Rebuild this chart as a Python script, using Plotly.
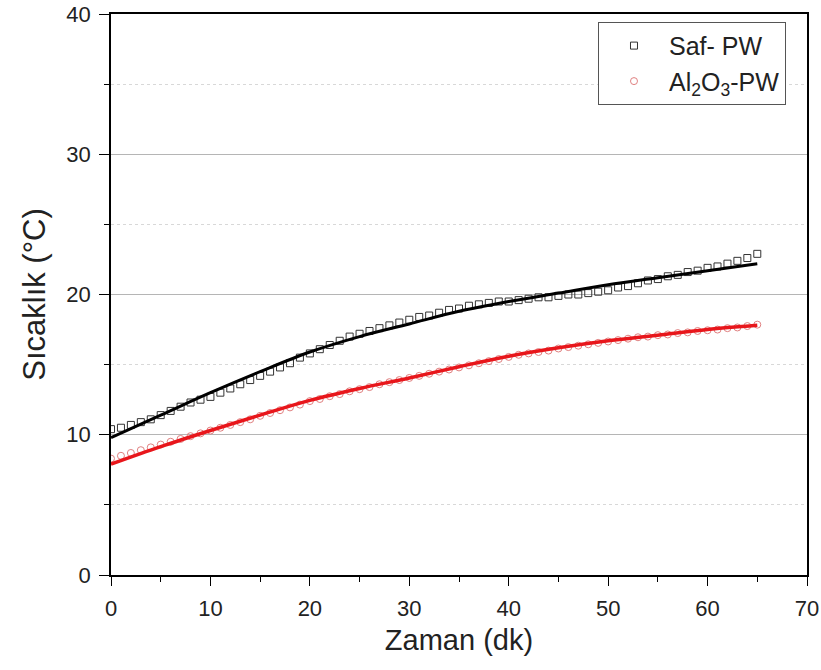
import plotly.graph_objects as go

# time (minutes) for measured points
t_points = list(range(0, 66))

saf_pw = [10.4, 10.5, 10.7, 10.9, 11.1, 11.4, 11.7, 12.0, 12.3, 12.5,
          12.7, 13.0, 13.3, 13.6, 13.9, 14.2, 14.5, 14.8, 15.1, 15.5,
          15.8, 16.1, 16.4, 16.7, 17.0, 17.2, 17.4, 17.6, 17.8, 18.0,
          18.2, 18.4, 18.5, 18.7, 18.9, 19.0, 19.2, 19.3, 19.4, 19.5,
          19.5, 19.6, 19.7, 19.8, 19.8, 19.9, 20.0, 20.0, 20.1, 20.2,
          20.3, 20.5, 20.6, 20.8, 21.0, 21.1, 21.3, 21.4, 21.6, 21.7,
          21.9, 22.0, 22.2, 22.4, 22.6, 22.9]

al2o3_pw = [8.3, 8.5, 8.7, 8.9, 9.1, 9.3, 9.5, 9.7, 9.9, 10.1,
            10.3, 10.5, 10.7, 10.9, 11.1, 11.35, 11.55, 11.75, 11.95, 12.15,
            12.4, 12.55, 12.75, 12.9, 13.1, 13.25, 13.4, 13.6, 13.75, 13.9,
            14.05, 14.2, 14.35, 14.5, 14.65, 14.8, 14.95, 15.1, 15.25, 15.4,
            15.55, 15.7, 15.8, 15.9, 16.0, 16.15, 16.25, 16.35, 16.45, 16.55,
            16.65, 16.75, 16.85, 16.95, 17.0, 17.1, 17.15, 17.25, 17.3, 17.4,
            17.45, 17.5, 17.6, 17.65, 17.75, 17.85]

# fitted curves
t_fit = [0, 5, 10, 15, 20, 25, 30, 35, 40, 45, 50, 55, 60, 65]
saf_fit = [9.8, 11.4, 13.0, 14.5, 15.9, 17.0, 17.9, 18.8, 19.5, 20.1, 20.7, 21.2, 21.7, 22.2]
al_fit = [7.9, 9.15, 10.3, 11.4, 12.45, 13.3, 14.05, 14.85, 15.6, 16.2, 16.7, 17.1, 17.5, 17.8]

x_ticks = [0, 10, 20, 30, 40, 50, 60, 70]
y_ticks = [0, 10, 20, 30, 40]

FONT = "Liberation Sans, Arial, sans-serif"

fig = go.Figure()

fig.add_trace(go.Scatter(
    x=t_points, y=saf_pw, mode="markers", name="Saf- PW",
    marker=dict(symbol="square-open", size=7, color="#333333", line=dict(width=1)),
))
fig.add_trace(go.Scatter(
    x=t_points, y=al2o3_pw, mode="markers", name="Al<sub>2</sub>O<sub>3</sub>-PW",
    marker=dict(symbol="circle-open", size=7, color="#e08080", line=dict(width=1)),
))
fig.add_trace(go.Scatter(
    x=t_fit, y=saf_fit, mode="lines", showlegend=False,
    line=dict(color="black", width=3, shape="spline"),
))
fig.add_trace(go.Scatter(
    x=t_fit, y=al_fit, mode="lines", showlegend=False,
    line=dict(color="#e8161b", width=3.5, shape="spline"),
))

fig.update_layout(
    width=821, height=670,
    margin=dict(l=111, r=14, t=14, b=95),
    paper_bgcolor="white", plot_bgcolor="white",
    font=dict(family=FONT, color="#222222"),
    legend=dict(
        x=0.6997, y=0.986, xanchor="left", yanchor="top",
        bordercolor="#555555", borderwidth=1, bgcolor="white",
        font=dict(size=25, family=FONT),
        itemwidth=60,
    ),
)

fig.update_xaxes(
    range=[0, 70], tickvals=x_ticks, automargin=False,
    showline=True, linecolor="black", linewidth=1.5, mirror=True,
    ticks="outside", ticklen=9, tickwidth=1.3, tickcolor="black",
    ticklabelstandoff=4, ticklabeloverflow="allow",
    minor=dict(dtick=5, ticks="outside", ticklen=5, tickcolor="black", showgrid=False),
    showgrid=False, zeroline=False,
    tickfont=dict(size=22, family=FONT),
    title=dict(text="Zaman (dk)", font=dict(size=29, family=FONT), standoff=10),
)
fig.update_yaxes(
    range=[0, 40], tickvals=y_ticks, automargin=False,
    showline=True, linecolor="black", linewidth=1.5, mirror=True,
    ticks="outside", ticklen=10, tickwidth=1.3, tickcolor="black",
    ticklabelstandoff=4, ticklabeloverflow="allow",
    showgrid=True, gridcolor="#b5b5b5", gridwidth=1,
    minor=dict(dtick=5, ticks="outside", ticklen=5, tickcolor="black",
               showgrid=True, gridcolor="#d8d8d8", griddash="dot", gridwidth=1),
    zeroline=False,
    tickfont=dict(size=22, family=FONT),
    title=dict(text="Sıcaklık (°C)", font=dict(size=31, family=FONT), standoff=12),
)

# remove the default page margin so the figure sits at the window origin
fig.write_html("out.html", config={"displayModeBar": False},
               post_script="document.body.style.margin='0px';")
